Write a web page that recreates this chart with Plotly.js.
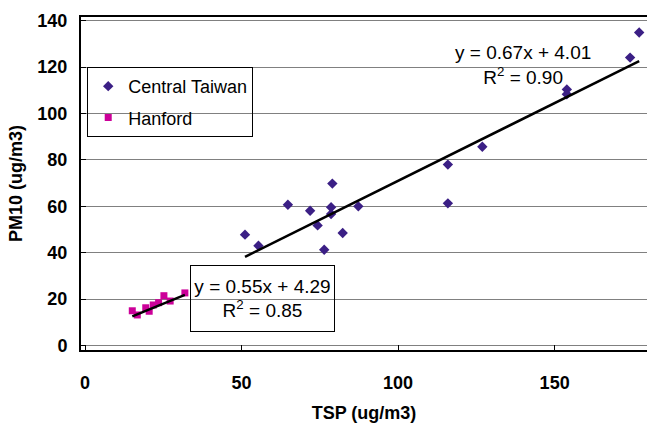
<!DOCTYPE html>
<html>
<head>
<meta charset="utf-8">
<script src="https://cdn.plot.ly/plotly-3.0.1.min.js"></script>
<style>html,body{margin:0;padding:0;background:#fff;}#chart{width:647px;height:423px;}</style>
</head>
<body>
<div id="chart"></div>
<script>
// Central Taiwan (TSP vs PM10)
const taiwanTSP  = [51.1, 55.4, 64.8, 71.9, 74.3, 76.4, 79.0, 78.6, 78.6, 82.3, 87.3, 115.9, 115.9, 126.9, 153.9, 153.9, 174.1, 177.0];
const taiwanPM10 = [47.8, 43.0, 60.7, 58.1, 51.8, 41.3, 69.8, 59.6, 56.7, 48.5, 60.0, 78.0, 61.3, 85.7, 110.4, 108.3, 124.1, 134.9];
// Hanford
const hanfordTSP  = [15.1, 16.7, 19.4, 20.5, 21.8, 23.5, 25.2, 27.2, 31.9];
const hanfordPM10 = [15.0, 13.2, 16.3, 14.8, 17.5, 18.5, 21.5, 19.2, 22.7];
// Linear fits
const taiwanFit  = {slope: 0.67, intercept: 4.01, r2: "0.90"};
const hanfordFit = {slope: 0.55, intercept: 4.29, r2: "0.85"};
const xTicks = [0, 50, 100, 150];
const yTicks = [0, 20, 40, 60, 80, 100, 120, 140];

function fitLine(xs, fit) {
  const lo = Math.min(...xs), hi = Math.max(...xs);
  return {x: [lo, hi], y: [fit.slope * lo + fit.intercept, fit.slope * hi + fit.intercept]};
}
const tl = fitLine(taiwanTSP, taiwanFit);
const hl = fitLine(hanfordTSP, hanfordFit);

const F = "Liberation Sans, Arial, sans-serif";
const data = [
  {x: taiwanTSP, y: taiwanPM10, type: 'scatter', mode: 'markers', name: 'Central Taiwan',
   legendgroup: 'a', marker: {symbol: 'diamond', size: 8, color: '#3B1F85'}},
  {x: hanfordTSP, y: hanfordPM10, type: 'scatter', mode: 'markers', name: 'Hanford',
   legendgroup: 'b', marker: {symbol: 'square', size: 7, color: '#CC0099'}},
  {x: tl.x, y: tl.y, type: 'scatter', mode: 'lines', showlegend: false,
   line: {color: '#000', width: 2.5}},
  {x: hl.x, y: hl.y, type: 'scatter', mode: 'lines', showlegend: false,
   line: {color: '#000', width: 2.5}}
];

const layout = {
  width: 647, height: 423,
  margin: {l: 81, r: 0, t: 17, b: 73},
  paper_bgcolor: '#fff', plot_bgcolor: '#fff',
  showlegend: true,
  legend: {x: 0.011, y: 0.85, xanchor: 'left', yanchor: 'top',
    bgcolor: 'rgba(0,0,0,0)', bordercolor: '#000', borderwidth: 1,
    font: {family: F, size: 18, color: '#000'},
    traceorder: 'grouped', tracegroupgap: 5},
  xaxis: {range: [-1.28, 179.5], tickvals: xTicks, showgrid: false, zeroline: false,
    showline: true, linecolor: '#000', linewidth: 2, mirror: true,
    ticks: 'inside', ticklen: 5, tickcolor: '#000', tickwidth: 1,
    ticklabelstandoff: 15,
    tickfont: {family: F, size: 18, color: '#000', weight: 'bold'},
    title: {text: 'TSP (ug/m3)', font: {family: F, size: 18, color: '#000', weight: 'bold'}, standoff: 16}},
  yaxis: {range: [-1.9, 141.6], tickvals: yTicks, showgrid: true, gridcolor: '#808080', gridwidth: 1,
    zeroline: false, showline: true, linecolor: '#000', linewidth: 2,
    ticks: 'inside', ticklen: 5, tickcolor: '#000', tickwidth: 1,
    ticklabelstandoff: 8,
    tickfont: {family: F, size: 18, color: '#000', weight: 'bold'},
    title: {text: 'PM10 (ug/m3)', font: {family: F, size: 18, color: '#000', weight: 'bold'}, standoff: 10}},
  annotations: [
    {x: 139.9, y: 120.9, xref: 'x', yref: 'y', showarrow: false, align: 'center',
     text: 'y = ' + taiwanFit.slope.toFixed(2) + 'x + ' + taiwanFit.intercept.toFixed(2) + '<br>R<sup>2</sup> = ' + taiwanFit.r2,
     font: {family: F, size: 19, color: '#000'}},
    {x: 56.7, y: 20.3, xref: 'x', yref: 'y', showarrow: false, align: 'center',
     width: 141, height: 63, bordercolor: '#000', borderwidth: 1, borderpad: 1, bgcolor: 'rgba(0,0,0,0)',
     text: 'y = ' + hanfordFit.slope.toFixed(2) + 'x + ' + hanfordFit.intercept.toFixed(2) + '<br>R<sup>2</sup> = ' + hanfordFit.r2,
     font: {family: F, size: 19, color: '#000'}}
  ]
};

Plotly.newPlot('chart', data, layout, {displayModeBar: false, staticPlot: true});
</script>
</body>
</html>
